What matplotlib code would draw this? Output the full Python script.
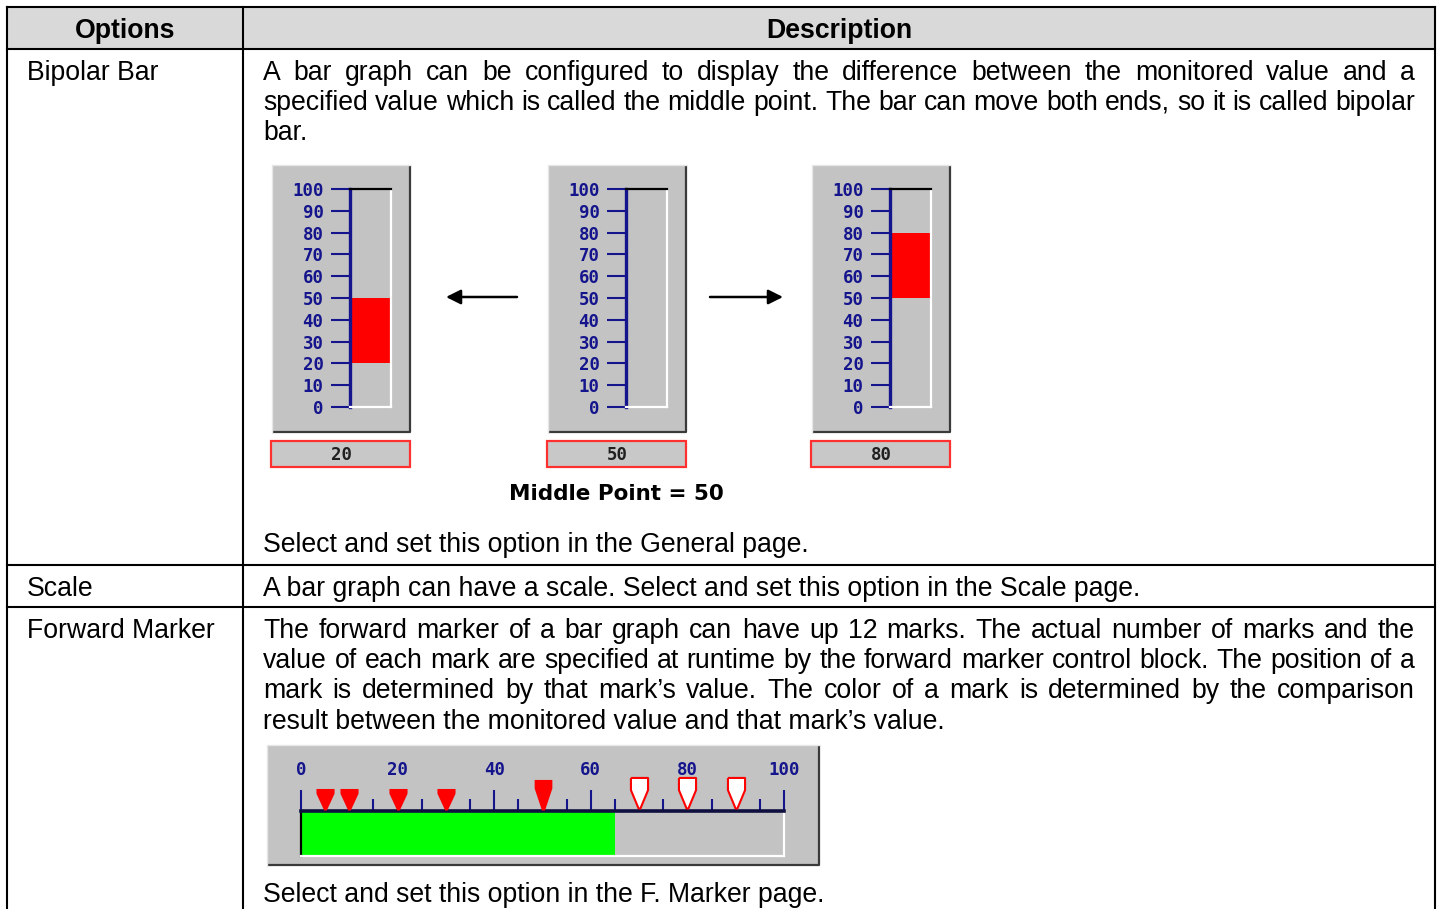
#!/usr/bin/env python3
"""Bar graph options table: bipolar bar and forward marker widgets."""

import matplotlib

matplotlib.use("Agg")
import matplotlib.pyplot as plt
from matplotlib.patches import Rectangle
from matplotlib.ticker import MultipleLocator

W, H = 1440, 909

# ---- data -------------------------------------------------------------
HEADERS = ["Options", "Description"]
OPTIONS = ["Bipolar Bar", "Scale", "Forward Marker"]
BIPOLAR_TEXT = [
    "A bar graph can be configured to display the difference between the monitored value and a",
    "specified value which is called the middle point. The bar can move both ends, so it is called bipolar",
    "bar.",
]
BIPOLAR_FOOT = "Select and set this option in the General page."
SCALE_TEXT = "A bar graph can have a scale. Select and set this option in the Scale page."
FORWARD_TEXT = [
    "The forward marker of a bar graph can have up 12 marks. The actual number of marks and the",
    "value of each mark are specified at runtime by the forward marker control block. The position of a",
    "mark is determined by that mark\u2019s value. The color of a mark is determined by the comparison",
    "result between the monitored value and that mark\u2019s value.",
]
FORWARD_FOOT = "Select and set this option in the F. Marker page."

MIDDLE_POINT = 50
GAUGE_VALUES = [20, 50, 80]
GAUGE_TICKS = list(range(0, 101, 10))

MONITORED = 65
MARK_VALUES = [5, 10, 20, 30, 50, 70, 80, 90]
LARGE_MARKS = [50]
FWD_TICKS = list(range(0, 101, 20))

# ---- style ------------------------------------------------------------
TEXT_FONT = "Liberation Sans"
MONO = "DejaVu Sans Mono"
NAVY = "#14148c"
PANEL = "#c3c3c3"
SHADOW = "#3a3a3a"
RED = "#ff0000"
GREEN = "#00ff00"
FS = 19.2
LINE = 30.4
DY = 1.5  # nudge so the visual centre matches


def frect(x0, y0, x1, y1):
    return [x0 / W, 1 - y1 / H, (x1 - x0) / W, (y1 - y0) / H]


def panel(ax, x0, y0, x1, y1):
    ax.add_patch(Rectangle((x0, y0), x1 - x0, y1 - y0, facecolor=PANEL, edgecolor="none", zorder=1))
    ax.plot([x0, x1, x1], [y1, y1, y0], color=SHADOW, lw=1.6, zorder=2, solid_capstyle="butt")
    ax.plot([x0, x0, x1], [y1, y0, y0], color="#e6e6e6", lw=1.0, zorder=2)


def label(ax, x, y, s, **kw):
    return ax.text(x, y + DY, s, fontsize=FS, family=TEXT_FONT, va="center", **kw)


def justify(ax, renderer, line, x0, x1, y, last=False):
    if last:
        label(ax, x0, y, line, ha="left")
        return
    words = line.split()
    texts = [label(ax, 0, y, w, ha="left") for w in words]
    widths = [t.get_window_extent(renderer).width for t in texts]
    gap = (x1 - x0 - sum(widths)) / (len(words) - 1)
    x = x0
    for t, w in zip(texts, widths):
        t.set_x(x)
        x += w + gap


fig = plt.figure(figsize=(W / 100, H / 100), dpi=100)
bg = fig.add_axes([0, 0, 1, 1])
bg.set_xlim(0, W)
bg.set_ylim(H, 0)
bg.axis("off")
renderer = fig.canvas.get_renderer()

# ---- table ------------------------------------------------------------
LEFT, MID, RIGHT, TOP = 7, 243, 1435, 7
ROWS = [49, 565, 607]
bg.add_patch(Rectangle((LEFT, TOP), RIGHT - LEFT, ROWS[0] - TOP, facecolor="#d9d9d9", edgecolor="none"))
for y in [TOP] + ROWS:
    bg.plot([LEFT, RIGHT], [y, y], color="black", lw=1.5, zorder=5)
for x in (LEFT, MID, RIGHT):
    bg.plot([x, x], [TOP, H + 5], color="black", lw=1.5, zorder=5)

label(bg, (LEFT + MID) / 2, 29, HEADERS[0], weight="bold", ha="center")
label(bg, (MID + RIGHT) / 2, 29, HEADERS[1], weight="bold", ha="center")

for name, y in zip(OPTIONS, (71, 587, 629)):
    label(bg, 27, y, name, ha="left")

TX0, TX1 = 263, 1415
for i, line in enumerate(BIPOLAR_TEXT):
    justify(bg, renderer, line, TX0, TX1, 71 + i * LINE, last=i == len(BIPOLAR_TEXT) - 1)
label(bg, TX0, 544, BIPOLAR_FOOT, ha="left")
label(bg, TX0, 587, SCALE_TEXT, ha="left")
for i, line in enumerate(FORWARD_TEXT):
    justify(bg, renderer, line, TX0, TX1, 629 + i * LINE, last=i == len(FORWARD_TEXT) - 1)
label(bg, TX0, 893, FORWARD_FOOT, ha="left")

# ---- bipolar gauges ---------------------------------------------------
PANEL_X = [272, 548, 812]
for px, value in zip(PANEL_X, GAUGE_VALUES):
    panel(bg, px, 165, px + 138, 432)
    bg.add_patch(Rectangle((px - 1, 441), 139, 26, facecolor="#c8c8c8", edgecolor="#ff3030", lw=1.6, zorder=3))
    bg.text(px + 69, 455, str(value), family=MONO, weight="bold", fontsize=12.5, color="#202020",
            ha="center", va="center", zorder=4)

    ax = fig.add_axes(frect(px + 78, 189, px + 119, 407))
    ax.set_facecolor(PANEL)
    ax.set_xlim(0, 1)
    ax.set_ylim(0, 100)
    ax.bar(0.5, value - MIDDLE_POINT, bottom=MIDDLE_POINT, width=1, color=RED, linewidth=0)
    ax.set_xticks([])
    ax.set_yticks(GAUGE_TICKS)
    ax.set_yticklabels([str(t) for t in GAUGE_TICKS], family=MONO, weight="bold", fontsize=12.5, color=NAVY)
    ax.tick_params(axis="y", length=14, width=1.5, color=NAVY, pad=5)
    ax.spines["left"].set_color(NAVY)
    ax.spines["left"].set_linewidth(2.4)
    ax.spines["top"].set_color("black")
    ax.spines["top"].set_linewidth(1.6)
    for side in ("right", "bottom"):
        ax.spines[side].set_color("white")
        ax.spines[side].set_linewidth(1.6)

bg.annotate("", xy=(446, 297), xytext=(517, 297),
            arrowprops=dict(arrowstyle="-|>", color="black", lw=1.8, mutation_scale=22, shrinkA=0, shrinkB=0))
bg.annotate("", xy=(783, 297), xytext=(710, 297),
            arrowprops=dict(arrowstyle="-|>", color="black", lw=1.8, mutation_scale=22, shrinkA=0, shrinkB=0))
bg.text(616, 494, f"Middle Point = {MIDDLE_POINT}", family="DejaVu Sans", weight="bold",
        fontsize=15.5, ha="center", va="center")

# ---- forward marker widget --------------------------------------------
panel(bg, 267, 745, 819, 865)
fx = fig.add_axes(frect(301, 811, 784, 856))
fx.set_facecolor(PANEL)
fx.set_xlim(0, 100)
fx.set_ylim(0, 1)
fx.barh(0.5, MONITORED, height=1, left=0, color=GREEN, linewidth=0)
fx.set_yticks([])
fx.xaxis.tick_top()
fx.set_xticks(FWD_TICKS)
fx.set_xticklabels([str(t) for t in FWD_TICKS], family=MONO, weight="bold", fontsize=12.5, color=NAVY)
fx.xaxis.set_minor_locator(MultipleLocator(5))
fx.tick_params(axis="x", which="major", length=15, width=1.5, color=NAVY, pad=8)
fx.tick_params(axis="x", which="minor", length=9, width=1.5, color=NAVY)
fx.spines["top"].set_color("#101040")
fx.spines["top"].set_linewidth(2.6)
fx.spines["left"].set_color("black")
fx.spines["left"].set_linewidth(1.6)
for side in ("right", "bottom"):
    fx.spines[side].set_color("white")
    fx.spines[side].set_linewidth(1.6)

small_mark = [(-0.42, 1), (0.42, 1), (0.42, 0.78), (0.06, 0), (-0.06, 0), (-0.42, 0.78), (-0.42, 1)]
tall_mark = [(-0.29, 1), (0.29, 1), (0.29, 0.72), (0.05, 0), (-0.05, 0), (-0.29, 0.72), (-0.29, 1)]
hollow_mark = [(-0.28, 1), (0.28, 1), (0.28, 0.6), (0.03, 0), (-0.03, 0), (-0.28, 0.6), (-0.28, 1)]
trans = fx.get_xaxis_transform()
for v in MARK_VALUES:
    if v <= MONITORED:
        shape, ms = (tall_mark, 44) if v in LARGE_MARKS else (small_mark, 31)
        fx.plot(v, 1.02, marker=shape, markersize=ms, color=RED, markeredgewidth=0,
                transform=trans, clip_on=False, zorder=6)
    else:
        fx.plot(v, 1.06, marker=hollow_mark, markersize=44, markerfacecolor="white",
                markeredgecolor=RED, markeredgewidth=1.5, transform=trans, clip_on=False, zorder=6)

fig.savefig("out.png", dpi=100)
